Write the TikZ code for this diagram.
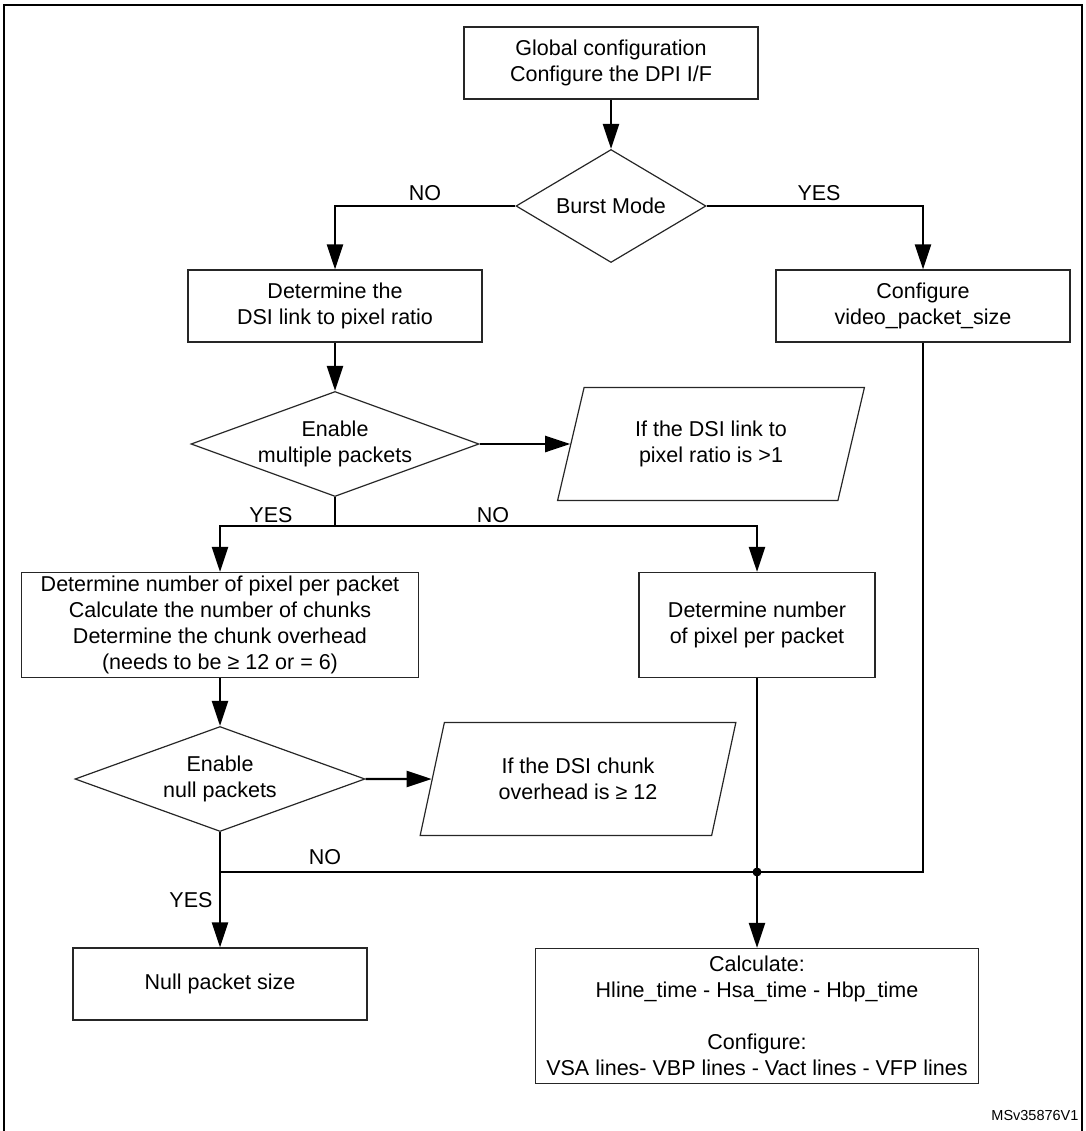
\documentclass[tikz,border=0pt]{standalone}
\usepackage{fontspec}
\setmainfont{Liberation Sans}
\usetikzlibrary{arrows.meta}
\usetikzlibrary{shapes.geometric}
\usetikzlibrary{calc}

\begin{document}
\begin{tikzpicture}[x=1pt,y=-1pt,->,>={Triangle[length=25pt,width=16pt]},line width=2.4pt,font=\fontsize{21.5}{26}\selectfont]
	\tikzstyle{box}=[draw=black!85, line width=1.2pt, rectangle, align=center, inner sep=0pt]
	\tikzstyle{test}=[draw=black!85, line width=1.2pt, diamond, align=center, inner sep=0pt]
	\tikzstyle{io}=[draw=black!85, line width=1.2pt, trapezium, trapezium left angle=71, trapezium right angle=109, trapezium stretches=true, align=center, inner sep=0pt]
	\tikzstyle{lbl}=[inner sep=0pt]
	\useasboundingbox (0,0) rectangle (1085,1131);
	\draw[-,line width=2.4pt] (4,1140) -- (4,5) -- (1082,5) -- (1082,1140);

	\node[box, minimum width=294pt, minimum height=72pt] (G) at (611,63) {Global configuration\\Configure the DPI I/F};
	\node[test, minimum width=190pt, minimum height=113pt, aspect=1.7] (BM) at (611,206) {Burst Mode};
	\node[box, minimum width=294pt, minimum height=72pt] (DSI) at (335,306) {Determine the\\DSI link to pixel ratio};
	\node[box, minimum width=294pt, minimum height=72pt] (VPS) at (923,306) {Configure\\video\_packet\_size};
	\node[test, minimum width=288pt, minimum height=105pt, aspect=2.7] (MP) at (335,444) {Enable\\multiple packets};
	\node[io, minimum width=307pt, minimum height=113pt] (R1) at (711,444) {If the DSI link to\\pixel ratio is >1};
	\node[box, minimum width=397pt, minimum height=105pt] (PPP) at (220,625) {Determine number of pixel per packet\\Calculate the number of chunks\\Determine the chunk overhead\\(needs to be ≥ 12 or = 6)};
	\node[box, minimum width=236pt, minimum height=105pt] (NPP) at (757,625) {Determine number\\of pixel per packet};
	\node[test, minimum width=290pt, minimum height=105pt, aspect=2.76] (NP) at (220,779) {Enable\\null packets};
	\node[io, minimum width=316pt, minimum height=113pt] (R2) at (578,779) {If the DSI chunk\\overhead is ≥ 12};
	\node[box, minimum width=294pt, minimum height=72pt] (NS) at (220,984) {Null packet size};
	\node[box, minimum width=443pt, minimum height=135pt] (CAL) at (757,1016) {Calculate:\\Hline\_time - Hsa\_time - Hbp\_time\\[26pt]Configure:\\VSA lines- VBP lines - Vact lines - VFP lines};
	\node[anchor=east, font=\fontsize{14.5}{17}\selectfont] (ID) at (1083,1115) {MSv35876V1};

	% branch labels
	\node[lbl] (no1) at (425,193) {NO};
	\node[lbl] (yes1) at (819,193) {YES};
	\node[lbl] (yes2) at (271,515) {YES};
	\node[lbl] (no2) at (493,515) {NO};
	\node[lbl] (no3) at (325,857) {NO};
	\node[lbl] (yes3) at (191,900) {YES};

	\coordinate (br) at (335,526);
	\coordinate (jn) at (757,872);
	\coordinate (jl) at (220,872);

	\path
	 (G) edge (BM)
	 (DSI) edge (MP)
	 (MP) edge (R1)
	 (PPP) edge (NP)
	 (NP) edge (R2)
	 (NP) edge (NS);
	\draw (BM.west) -| (DSI.north);
	\draw (BM.east) -| (VPS.north);
	\draw[-] (MP.south) -- (br);
	\draw (br) -| (PPP.north);
	\draw (br) -| (NPP.north);
	\draw[-] (NPP.south) -- (jn);
	\draw[-] (VPS.south) |- (jl);
	\fill[-] (jn) circle (4.5pt);
	\draw (jn) -- (CAL.north);
\end{tikzpicture}
\end{document}
